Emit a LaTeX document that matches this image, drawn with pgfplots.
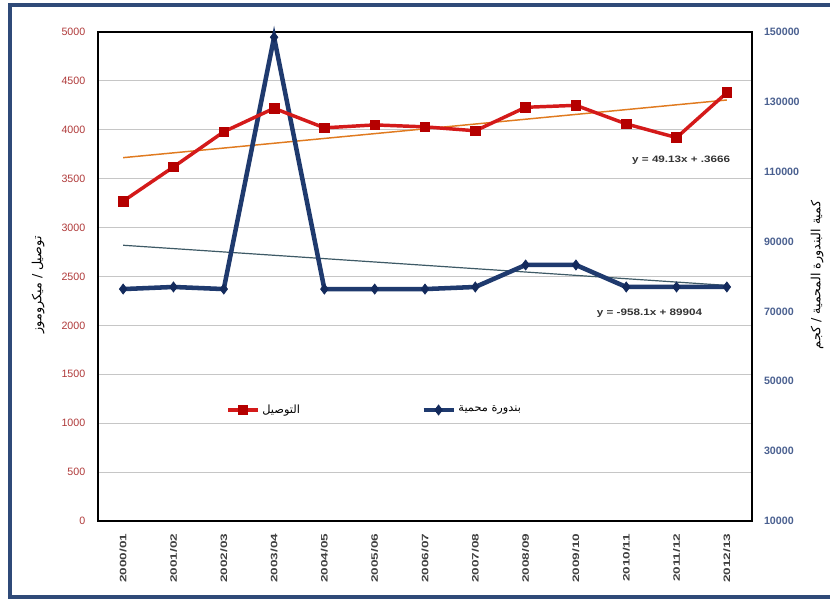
\documentclass[border=0pt]{standalone}
\usepackage{pgfplots}
\pgfplotsset{compat=1.18}
\usepackage{graphicx}
\usepackage{fontspec}
\setmainfont{Liberation Sans}
\newfontfamily\arabicfont[Script=Arabic]{DejaVu Sans}
\TeXXeTstate=1
\definecolor{frameblue}{HTML}{2F4A78}
\definecolor{lred}{HTML}{D41A1A}
\definecolor{mred}{HTML}{B50000}
\definecolor{tred}{HTML}{B03A3A}
\definecolor{navy}{HTML}{1F3A6E}
\definecolor{navydark}{HTML}{132A5C}
\definecolor{tblue}{HTML}{4A6090}
\definecolor{trendor}{HTML}{E07A1F}
\definecolor{trendbl}{HTML}{3E5A66}
\pgfplotsset{
  common/.style={scale only axis, width=490.5pt, height=366.75pt,
    xmin=0.5, xmax=13.5, major tick length=0pt,
    scaled y ticks=false,
    /pgf/number format/assume math mode=true,
    /pgf/number format/fixed, /pgf/number format/precision=0,
    /pgf/number format/set thousands separator={}},
}
\begin{document}
\begin{tikzpicture}
\useasboundingbox ({-98*0.75pt},{-81*0.75pt}) rectangle ({732*0.75pt},{521*0.75pt});
\fill[white] ({-98*0.75pt},{-81*0.75pt}) rectangle ({732*0.75pt},{521*0.75pt});
\draw[frameblue, line width=2.6pt] ({(10-98)*0.75pt},{(521-597)*0.75pt}) rectangle ({(836-98)*0.75pt},{(521-5)*0.75pt});

% left axis: grid, box, labels
\begin{axis}[common, ymin=0, ymax=5000, ytick={0,500,...,5000},
  ymajorgrids, grid style={draw=gray!45, line width=0.8pt},
  axis line style={line width=1.6pt, black},
  xtick={1,...,13},
  xticklabels={\scalebox{1.45}[1]{2000/01},\scalebox{1.45}[1]{2001/02},\scalebox{1.45}[1]{2002/03},\scalebox{1.45}[1]{2003/04},\scalebox{1.45}[1]{2004/05},\scalebox{1.45}[1]{2005/06},\scalebox{1.45}[1]{2006/07},\scalebox{1.45}[1]{2007/08},\scalebox{1.45}[1]{2008/09},\scalebox{1.45}[1]{2009/10},\scalebox{1.45}[1]{2010/11},\scalebox{1.45}[1]{2011/12},\scalebox{1.45}[1]{2012/13}},
  x tick label style={rotate=90, anchor=east, font=\bfseries\fontsize{7}{8}\selectfont, text=black!75},
  xticklabel shift=6pt,
  y tick label style={font=\fontsize{8}{9}\selectfont, text=tred},
  yticklabel shift=6pt,
  ylabel={\arabicfont\beginR توصيل / ميكروموز\endR},
  ylabel style={at={(axis description cs:-0.0917,0.483)}, anchor=center, font=\fontsize{9.5}{11}\selectfont},
  clip=false]
\addplot[trendor, line width=1.1pt, forget plot] coordinates {(1,3715.13) (13,4304.69)};
\node[anchor=east, font=\bfseries\fontsize{7}{8}\selectfont, text=black!80] at (axis cs:13.16,3691) {\scalebox{1.25}[1]{y = 49.13x + .3666}};
\node[anchor=east, font=\bfseries\fontsize{7}{8}\selectfont, text=black!80] at (axis cs:12.6,2127) {\scalebox{1.25}[1]{y = -958.1x + 89904}};
\end{axis}

% right axis: blue series
\begin{axis}[common, ymin=10000, ymax=150000, ytick={10000,30000,...,150000},
  axis y line*=right, axis x line=none,
  axis line style={line width=1.6pt, black},
  y tick label style={font=\bfseries\fontsize{8}{9}\selectfont, text=tblue},
  yticklabel shift=5.5pt,
  ylabel={\arabicfont\beginR كمية البندورة المحمية / كجم\endR},
  ylabel style={at={(axis description cs:1.0994,0.503)}, anchor=center, font=\fontsize{9.5}{11}\selectfont},
  clip=false,
  legend style={at={(0.4878,0.227)}, anchor=west, draw=none, fill=none, font=\fontsize{8.5}{10}\selectfont},
  legend image code/.code={\draw[mark repeat=2,mark phase=2] plot coordinates {(0pt,0pt) (11.25pt,0pt) (22.5pt,0pt)};}]
\addplot[trendbl, line width=0.9pt, forget plot] coordinates {(1,88945.9) (13,77448.7)};
\addplot[navy, line width=3.4pt, mark=diamond*, mark size=3.8pt, mark options={solid, fill=navydark, draw=navydark, line width=0.5pt}] coordinates {
(1,76400) (2,77000) (3,76400) (4,148500) (5,76400) (6,76400) (7,76400)
(8,77000) (9,83300) (10,83300) (11,77000) (12,77000) (13,77000)};
\addlegendentry{\arabicfont\beginR بندورة محمية\endR}
\end{axis}

% red series on top
\begin{axis}[common, ymin=0, ymax=5000, hide axis, clip=false,
  legend style={at={(0.1896,0.227)}, anchor=west, draw=none, fill=none, font=\fontsize{8.5}{10}\selectfont},
  legend image code/.code={\draw[mark repeat=2,mark phase=2] plot coordinates {(0pt,0pt) (11.25pt,0pt) (22.5pt,0pt)};}]
\addplot[lred, line width=2.6pt, mark=square*, mark size=3.6pt, mark options={solid, fill=mred, draw=mred, line width=0.5pt}] coordinates {
(1,3270) (2,3620) (3,3980) (4,4220) (5,4020) (6,4050) (7,4030)
(8,3990) (9,4230) (10,4250) (11,4060) (12,3920) (13,4380)};
\addlegendentry{\arabicfont\beginR التوصيل\endR}
\end{axis}
\end{tikzpicture}
\end{document}
